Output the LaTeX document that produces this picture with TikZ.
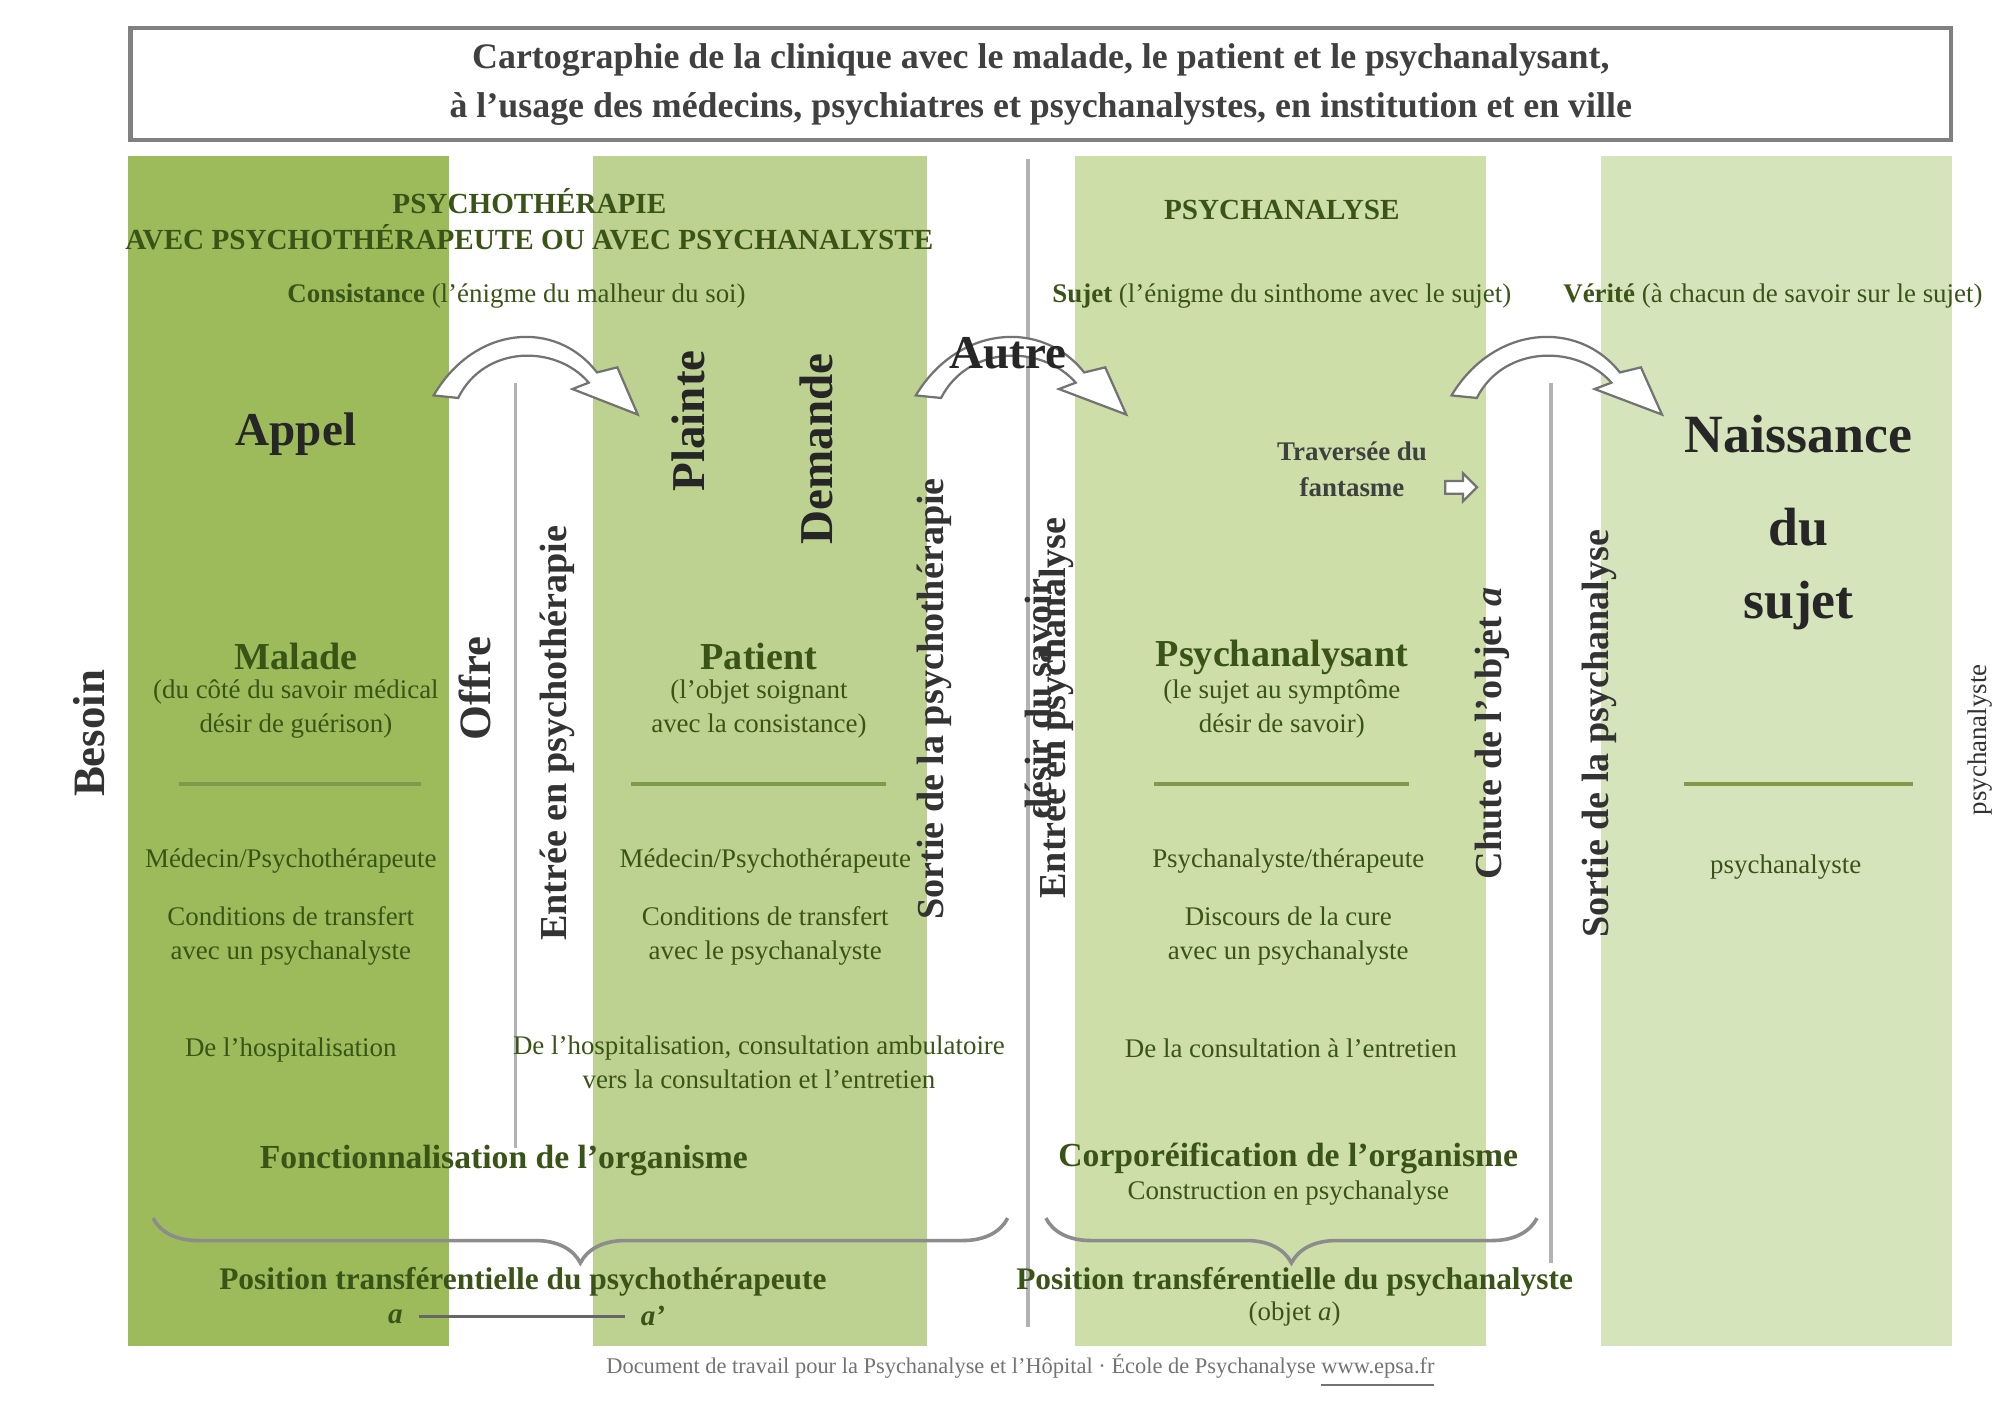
\documentclass[tikz,border=0pt]{standalone}
\usepackage{fontspec}
\setmainfont{Liberation Serif}
\usetikzlibrary{decorations.pathreplacing}
\definecolor{cA}{HTML}{9DBB5B}
\definecolor{cB}{HTML}{BDD190}
\definecolor{cC}{HTML}{CDDEA8}
\definecolor{cD}{HTML}{D6E4BC}
\definecolor{tx}{HTML}{3A5418}
\definecolor{ln}{HTML}{7F9A4A}
\tikzset{
 t/.style={font=\fontsize{6}{7.5}\selectfont, text=tx, align=center},
 tb/.style={font=\fontsize{8.5}{10}\selectfont\bfseries, text=tx, align=center},
 big/.style={font=\fontsize{10.5}{12}\selectfont\bfseries, text=black!85, align=center},
 rot/.style={font=\fontsize{8.5}{10}\selectfont\bfseries, text=black!80, rotate=90, align=center},
 sep/.style={draw=ln, line width=0.9pt},
 carrow/.style={fill=white, draw=black!55, line width=0.5pt},
}
\newcommand{\bentarrow}[2]{%
 \begin{scope}[shift={(#1,0)}, xscale=#2/100]
 \draw[carrow] (0,310) .. controls (20,255) and (60,250) .. (80,292) -- (90,288) -- (100,325) -- (68,305) -- (76,300) .. controls (60,270) and (25,270) .. (12,312) -- cycle;
 \end{scope}}
\begin{document}
\begin{tikzpicture}[x=0.01cm, y=-0.01cm]
\useasboundingbox (0,0) rectangle (1568,1114);
\fill[white] (0,0) rectangle (1568,1114);
% title
\node[draw=black!50, line width=1pt, minimum width=1427*0.01cm, minimum height=83*0.01cm, align=center, font=\fontsize{8}{11}\selectfont\bfseries, text=black!75] (title) at (816,66)
 {Cartographie de la clinique avec le malade, le patient et le psychanalysant,\\ à l'usage des médecins, psychiatres et psychanalystes, en institution et en ville};
% columns
\fill[cA] (100,122) rectangle (352,1055);
\fill[cB] (465,122) rectangle (727,1055);
\fill[cC] (843,122) rectangle (1165,1055);
\fill[cD] (1255,122) rectangle (1530,1055);
% vertical lines
\draw[black!30, line width=0.8pt] (404,300) -- (404,900);
\draw[black!30, line width=0.8pt] (806,125) -- (806,1040);
\draw[black!30, line width=0.8pt] (1216,300) -- (1216,990);
% headers
\node[t, font=\fontsize{6.5}{8}\selectfont\bfseries] (h1) at (415,172) {PSYCHOTHÉRAPIE\\AVEC PSYCHOTHÉRAPEUTE OU AVEC PSYCHANALYSTE};
\node[t] (c1) at (405,232) {\textbf{Consistance} (l'énigme du malheur du soi)};
\node[t, font=\fontsize{6.5}{8}\selectfont\bfseries] (h2) at (1005,165) {PSYCHANALYSE};
\node[t] (c2) at (1005,232) {\textbf{Sujet} (l'énigme du sinthome avec le sujet)};
\node[t] (c3) at (1390,232) {\textbf{Vérité} (à chacun de savoir sur le sujet)};
% arrows
\bentarrow{340}{160}
\bentarrow{718}{165}
\bentarrow{1138}{165}
\node[big] (autre) at (790,277) {Autre};
\node[big] (appel) at (232,340) {Appel};
\node[big, rotate=90] (plainte) at (540,330) {Plainte};
\node[big, rotate=90] (demande) at (640,352) {Demande};
\node[big, font=\fontsize{12}{14}\selectfont\bfseries] (n1) at (1410,340) {Naissance};
\node[big, font=\fontsize{12}{14}\selectfont\bfseries] (n2) at (1410,413) {du};
\node[big, font=\fontsize{12}{14}\selectfont\bfseries] (n3) at (1410,475) {sujet};
\node[t, font=\fontsize{6}{8}\selectfont\bfseries, text=black!75] (trav) at (1060,368) {Traversée du\\fantasme};
\draw[carrow] (1133,377) -- (1147,377) -- (1147,371) -- (1158,382) -- (1147,393) -- (1147,387) -- (1133,387) -- cycle;
% rotated labels
\node[rot, font=\fontsize{10}{12}\selectfont\bfseries] (besoin) at (70,575) {Besoin};
\node[rot, font=\fontsize{10}{12}\selectfont\bfseries] (offre) at (372,540) {Offre};
\node[rot] (entree1) at (437,575) {Entrée en psychothérapie};
\node[rot, font=\fontsize{8.5}{24}\selectfont\bfseries] (sortie1) at (772,548) {Sortie de la psychothérapie\\désir du savoir};
\node[rot] (entree2) at (828,555) {Entrée en psychanalyse};
\node[rot, font=\fontsize{8.5}{24}\selectfont\bfseries] (chute) at (1212,575) {Chute de l'objet \textit{a}\\Sortie de la psychanalyse};
\node[rot, font=\fontsize{6}{7}\selectfont] (psy) at (1552,580) {psychanalyste};
% positions
\node[tb] (malade) at (232,515) {Malade};
\node[t] (malade2) at (232,556) {(du côté du savoir médical\\désir de guérison)};
\node[tb] (patient) at (595,515) {Patient};
\node[t] (patient2) at (595,556) {(l'objet soignant\\avec la consistance)};
\node[tb] (psa) at (1005,515) {Psychanalysant};
\node[t] (psa2) at (1005,556) {(le sujet au symptôme\\désir de savoir)};
\draw[sep] (140,615) -- (330,615);
\draw[sep] (495,615) -- (695,615);
\draw[sep] (905,615) -- (1105,615);
\draw[sep] (1320,615) -- (1500,615);
\node[t] (m1) at (228,675) {Médecin/Psychothérapeute};
\node[t] (m2) at (600,675) {Médecin/Psychothérapeute};
\node[t] (m3) at (1010,675) {Psychanalyste/thérapeute};
\node[t] (m4) at (1400,680) {psychanalyste};
\node[t] (k1) at (228,734) {Conditions de transfert\\avec un psychanalyste};
\node[t] (k2) at (600,734) {Conditions de transfert\\avec le psychanalyste};
\node[t] (k3) at (1010,734) {Discours de la cure\\avec un psychanalyste};
\node[t] (l1) at (228,823) {De l'hospitalisation};
\node[t] (l2) at (595,833) {De l'hospitalisation, consultation ambulatoire\\vers la consultation et l'entretien};
\node[t] (l3) at (1012,822) {De la consultation à l'entretien};
\node[tb, font=\fontsize{7.5}{9}\selectfont\bfseries] (f1) at (395,910) {Fonctionnalisation de l'organisme};
\node[tb, font=\fontsize{7.5}{9}\selectfont\bfseries] (f2) at (1010,908) {Corporéification de l'organisme};
\node[t] (f2b) at (1010,935) {Construction en psychanalyse};
% braces
\draw[black!45, line width=0.8pt, decorate, decoration={brace, amplitude=10pt, mirror}] (120,955) -- (790,955);
\draw[black!45, line width=0.8pt, decorate, decoration={brace, amplitude=10pt, mirror}] (820,955) -- (1205,955);
\node[tb, font=\fontsize{7}{9}\selectfont\bfseries] (p1) at (410,1005) {Position transférentielle du psychothérapeute};
\node[t, font=\fontsize{6.5}{8}\selectfont\bfseries] (a1) at (310,1032) {\textit{a}};
\node[t, font=\fontsize{6.5}{8}\selectfont\bfseries] (a2) at (512,1032) {\textit{a'}};
\draw[black!60, line width=0.6pt] (a1) -- (a2);
\node[tb, font=\fontsize{7}{9}\selectfont\bfseries] (p2) at (1015,1005) {Position transférentielle du psychanalyste};
\node[t] (p2b) at (1015,1030) {(objet \textit{a})};
\node[font=\fontsize{5}{6}\selectfont, text=black!55] (foot) at (800,1075) {Document de travail pour la Psychanalyse et l'Hôpital · École de Psychanalyse \underline{www.epsa.fr}};
\end{tikzpicture}
\end{document}
